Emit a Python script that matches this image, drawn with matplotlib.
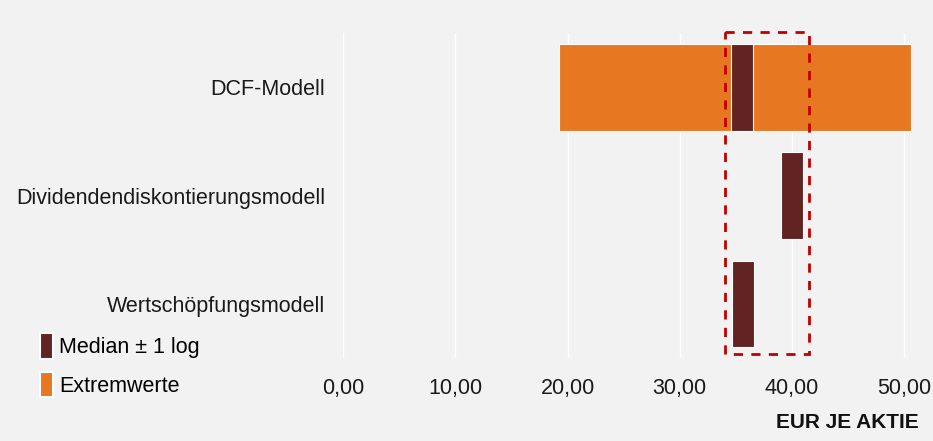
import matplotlib.pyplot as plt
from matplotlib.patches import Patch, Rectangle

plt.rcParams['font.family'] = ['Liberation Sans', 'DejaVu Sans']

# Daten
modelle = ['DCF-Modell', 'Dividendendiskontierungsmodell', 'Wertschöpfungsmodell']
median_low = [34.6, 39.03, 34.67]
median_high = [36.55, 40.95, 36.6]
extrem_low = [19.2, None, None]
extrem_high = [50.66, None, None]
ticks = [0, 10, 20, 30, 40, 50]
box_x = (34.0, 41.53)

orange = '#E87722'
braun = '#622423'
bg = '#F2F2F2'

fig = plt.figure(figsize=(9.33, 4.41), dpi=100, facecolor=bg)
ax = fig.add_axes([0.368, 0.188, 0.625, 0.737], facecolor=bg)

y = list(range(len(modelle)))

# Extremwerte
for i in y:
    if extrem_low[i] is not None:
        ax.barh(i, extrem_high[i] - extrem_low[i], left=extrem_low[i], height=0.8,
                color=orange, edgecolor='white', linewidth=0.8, zorder=2)

# Median +- 1 log
ax.barh(y, [h - l for l, h in zip(median_low, median_high)], left=median_low, height=0.8,
        color=braun, edgecolor='white', linewidth=0.8, zorder=3)

# rote gestrichelte Box
rect = Rectangle((box_x[0], -0.506), box_x[1] - box_x[0], 2.97, fill=False,
                 edgecolor='#C00000', linewidth=2, linestyle=(0, (3.3, 3)),
                 zorder=4, clip_on=False)
ax.add_patch(rect)

ax.set_xlim(0, 52)
ax.set_ylim(2.5, -0.5)
ax.set_xticks(ticks)
ax.set_xticklabels([f'{t:.2f}'.replace('.', ',') for t in ticks], fontsize=15.5)
ax.set_yticks(y)
ax.set_yticklabels(modelle, fontsize=15.5)
ax.tick_params(axis='both', length=0, colors='#1a1a1a')
ax.tick_params(axis='x', pad=14)
ax.tick_params(axis='y', pad=13)
ax.grid(axis='x', color='white', linewidth=1, zorder=1)
ax.set_axisbelow(True)
for s in ax.spines.values():
    s.set_visible(False)

fig.text(0.985, 0.02, 'EUR JE AKTIE', ha='right', va='bottom', fontsize=15,
         fontweight='bold', color='#111111')

handles = [Patch(facecolor=braun, edgecolor='white', linewidth=1.5, label='Median ± 1 log'),
           Patch(facecolor=orange, edgecolor='white', linewidth=1.5, label='Extremwerte')]
fig.legend(handles=handles, loc='upper left', bbox_to_anchor=(0.0425, 0.244), frameon=False,
           fontsize=15.5, handlelength=0.6, handleheight=1.45, handletextpad=0.3,
           labelspacing=0.6, borderaxespad=0, borderpad=0)

fig.savefig('out.png', dpi=100, facecolor=bg)
